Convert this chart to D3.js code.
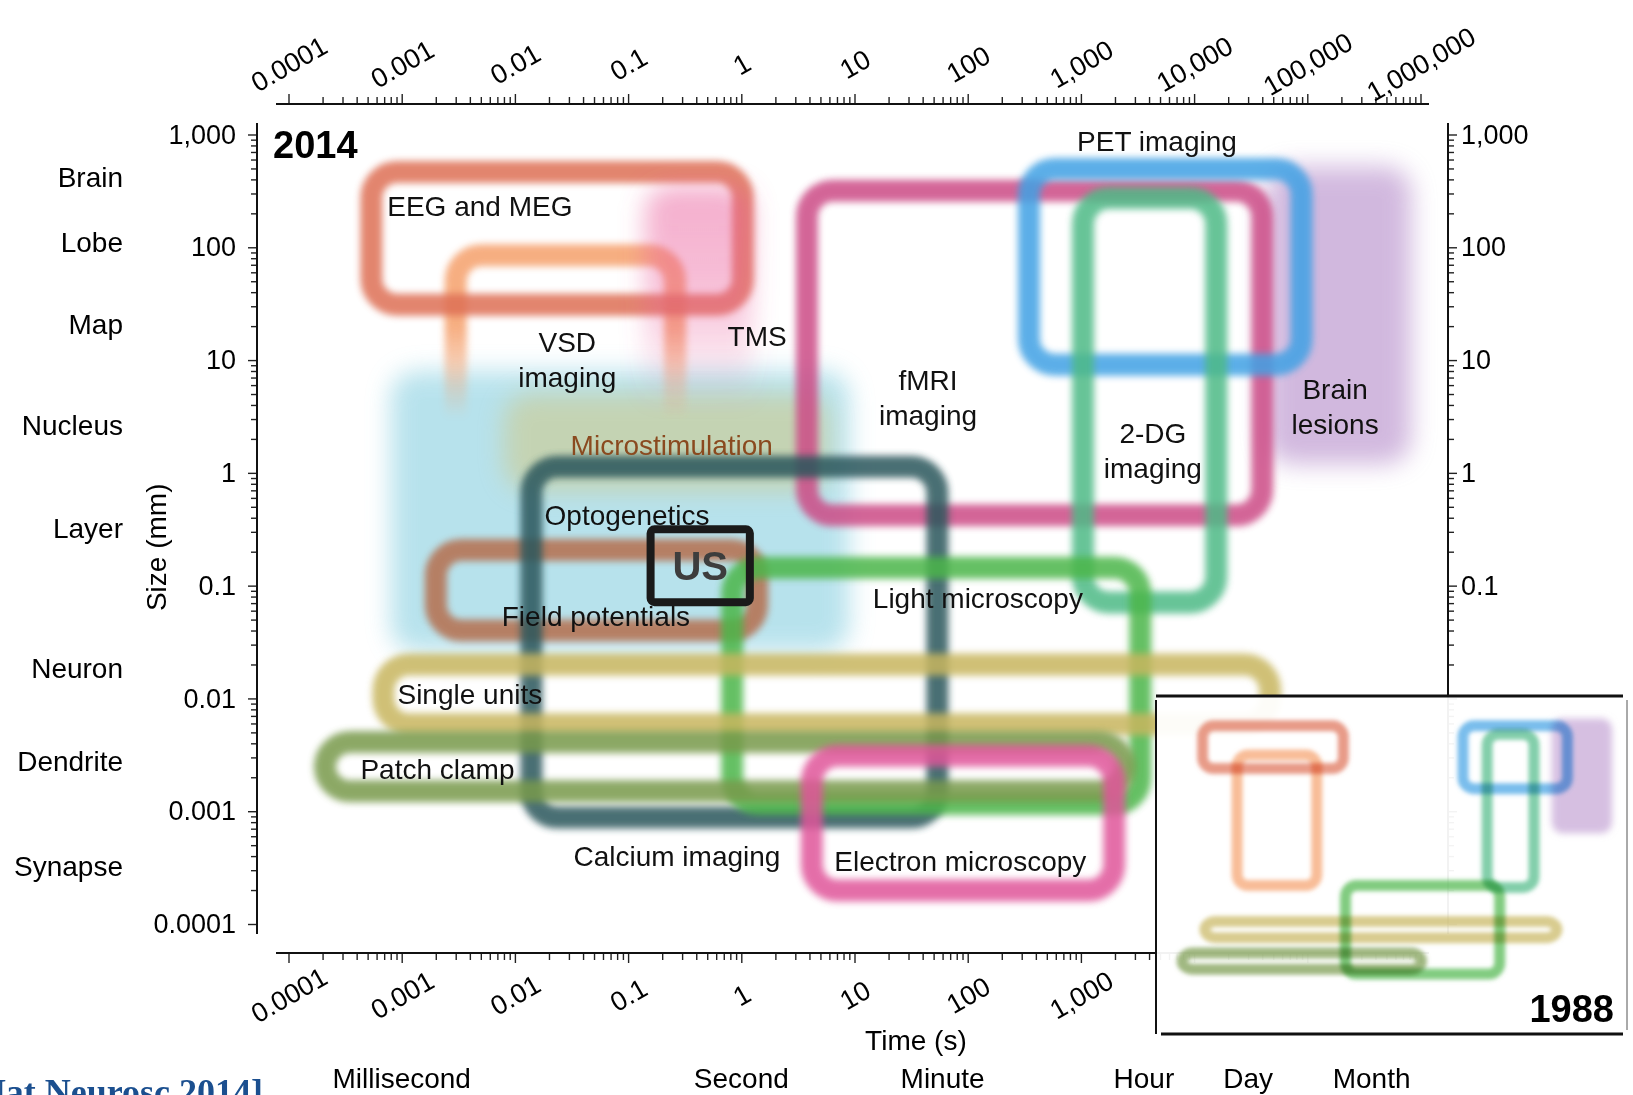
<!DOCTYPE html>
<html>
<head>
<meta charset="utf-8">
<script src="https://cdnjs.cloudflare.com/ajax/libs/d3/7.8.5/d3.min.js"></script>
<style>
  body { margin: 0; background: #fff; }
  svg { display: block; font-family: "Liberation Sans", Arial, Helvetica, sans-serif; }
</style>
</head>
<body>
<svg id="chart"></svg>
<script>
// 2014 panel: time range (s) and size range (mm) of each method
const methods = ["Brain lesions", "Optogenetics", "Microstimulation", "VSD imaging", "EEG and MEG",
  "fMRI imaging", "PET imaging", "2-DG imaging", "Field potentials", "Calcium imaging",
  "Light microscopy", "Single units", "Patch clamp", "Electron microscopy", "TMS"];
const timeFrom = [4.3e4, 8e-4, 8e-3, 3e-3, 5.4e-4, 3.8, 348, 1045, 2e-3, 0.014, 0.83, 6.9e-4, 2.1e-4, 4.2, 0.14];
const timeTo = [8.3e5, 9, 6, 0.26, 1.03, 4e4, 8.9e4, 1.57e4, 1.38, 54, 3350, 4.7e4, 2440, 1970, 1.25];
const sizeFrom = [1.2, 0.026, 0.7, 0.5, 31, 0.42, 9.1, 0.071, 0.04, 8.8e-4, 1.16e-3, 0.0059, 1.5e-3, 1.98e-4, 3];
const sizeTo = [520, 8, 5, 85, 466, 317, 495, 273, 0.207, 1.13, 0.144, 0.02, 4.1e-3, 3.1e-3, 350];

// method labels, anchored in data units
const labelLines = [["EEG and MEG"], ["VSD", "imaging"], ["TMS"], ["Microstimulation"], ["Optogenetics"],
  ["Field potentials"], ["fMRI", "imaging"], ["PET imaging"], ["2-DG", "imaging"], ["Brain", "lesions"],
  ["Light microscopy"], ["Single units"], ["Patch clamp"], ["Calcium imaging"], ["Electron microscopy"]];
const labelTime = [4.9e-3, 0.029, 1.38, 0.243, 0.098, 0.052, 44.6, 4700, 4320, 1.76e5, 123, 0.004, 0.00207, 0.27, 86];
const labelSize = [231, 10.1, 16.2, 1.77, 0.427, 0.054, 4.7, 880, 1.59, 3.9, 0.078, 0.011, 0.00238, 0.0004, 0.00036];

// 1988 inset
const methods1988 = ["Brain lesions", "EEG and MEG", "VSD imaging", "PET imaging", "2-DG imaging",
  "Light microscopy", "Single units", "Patch clamp"];
const timeFrom1988 = [1.9e4, 7.6e-4, 4.1e-3, 250, 813, 0.81, 8.5e-4, 2.8e-4];
const timeTo1988 = [3.6e5, 0.73, 0.2, 4.07e4, 8000, 1500, 2.45e4, 33];
const sizeFrom1988 = [1.44, 39, 0.1, 14, 0.091, 1.1e-3, 7e-3, 1.4e-3];
const sizeTo1988 = [500, 345, 78, 345, 226, 0.1, 0.016, 3.2e-3];

// "US" box (time, size corners)
const usTime = [0.158, 1.19];
const usSize = [0.0714, 0.316];

// axes
const timeTicks = [1e-4, 1e-3, 1e-2, 1e-1, 1, 10, 100, 1e3, 1e4, 1e5, 1e6];
const timeTickLabels = ["0.0001", "0.001", "0.01", "0.1", "1", "10", "100", "1,000", "10,000", "100,000", "1,000,000"];
const sizeTicks = [1000, 100, 10, 1, 0.1, 0.01, 0.001, 0.0001];
const sizeTickLabels = ["1,000", "100", "10", "1", "0.1", "0.01", "0.001", "0.0001"];
const sizeNames = ["Brain", "Lobe", "Map", "Nucleus", "Layer", "Neuron", "Dendrite", "Synapse"];
const sizeNameValues = [418, 112, 21, 2.65, 0.32, 0.0187, 0.00276, 0.000323];
const timeUnits = ["Millisecond", "Second", "Minute", "Hour", "Day", "Month"];
const timeUnitValues = [0.001, 1, 60, 3600, 3e4, 3.7e5];

const look = {
  "Brain lesions": { color: "#b48ac9", filled: true, opacity: 0.6 },
  "Optogenetics": { color: "#a6dbe8", filled: true, opacity: 0.8 },
  "Microstimulation": { color: "#d2c57c", filled: true, opacity: 0.5 },
  "TMS": { color: "#ea5f9c", filled: true, opacity: 1, grad: "tmsFade" },
  "VSD imaging": { color: "#f5a06c", opacity: 0.85, grad: "vsdFade" },
  "EEG and MEG": { color: "#de6f55", opacity: 0.85 },
  "fMRI imaging": { color: "#cc4c86", opacity: 0.85 },
  "PET imaging": { color: "#3fa1e4", opacity: 0.85 },
  "2-DG imaging": { color: "#4dba86", opacity: 0.85 },
  "Field potentials": { color: "#b56e4e", opacity: 0.85 },
  "Calcium imaging": { color: "#2c575b", opacity: 0.85 },
  "Light microscopy": { color: "#4bb64a", opacity: 0.85 },
  "Single units": { color: "#c8b65e", opacity: 0.85 },
  "Patch clamp": { color: "#789a4b", opacity: 0.85 },
  "Electron microscopy": { color: "#e0559a", opacity: 0.85 },
};

let width = 1633;
let height = 1095;

let svg = d3.select("#chart").attr("width", width).attr("height", height);

let xScale = d3.scaleLog().domain([1e-4, 1e6]).range([288.5, 1420.5]);
let yScale = d3.scaleLog().domain([1000, 1e-4]).range([134.5, 924]);
let xInset = d3.scaleLog().domain([1e-4, 1e6]).range([1161, 1633]);
let yInset = d3.scaleLog().domain([1000, 1e-4]).range([705, 1021]);

let defs = svg.append("defs");
let addBlur = (id, sd) => {
  defs.append("filter").attr("id", id)
    .attr("filterUnits", "userSpaceOnUse")
    .attr("x", 0).attr("y", 0).attr("width", width).attr("height", height)
    .append("feGaussianBlur").attr("stdDeviation", sd);
};
addBlur("blurLine", 3.5);
addBlur("blurFill", 12);
addBlur("blurSmall", 2);

let addFade = (id, color, stops, y1, y2) => {
  let g = defs.append("linearGradient").attr("id", id)
    .attr("gradientUnits", "userSpaceOnUse")
    .attr("x1", 0).attr("x2", 0).attr("y1", y1).attr("y2", y2);
  stops.forEach((s) => {
    g.append("stop").attr("offset", s[0]).attr("stop-color", color).attr("stop-opacity", s[1]);
  });
};
addFade("vsdFade", look["VSD imaging"].color, [[0, 1], [1, 0]], yScale(20), yScale(3));
addFade("tmsFade", look["TMS"].color, [[0, 0.5], [0.45, 0.4], [1, 0]], yScale(300), yScale(4));

// ---- main methods ----
let rows = methods.map((name, i) => ({ name: name, t0: timeFrom[i], t1: timeTo[i], s0: sizeFrom[i], s1: sizeTo[i] }));
let paint = (d) => (look[d.name].grad ? "url(#" + look[d.name].grad + ")" : look[d.name].color);

svg.append("g")
  .selectAll("rect")
  .data(rows)
  .enter()
  .append("rect")
  .attr("x", (d) => xScale(d.t0))
  .attr("width", (d) => xScale(d.t1) - xScale(d.t0))
  .attr("y", (d) => yScale(d.s1))
  .attr("height", (d) => yScale(d.s0) - yScale(d.s1))
  .attr("rx", 26)
  .attr("fill", (d) => (look[d.name].filled ? paint(d) : "none"))
  .attr("stroke", (d) => (look[d.name].filled ? "none" : paint(d)))
  .attr("stroke-width", 22)
  .attr("opacity", (d) => look[d.name].opacity)
  .attr("filter", (d) => (look[d.name].filled ? "url(#blurFill)" : "url(#blurLine)"));

// ---- method labels ----
labelLines.forEach((lines, i) => {
  let cx = xScale(labelTime[i]);
  let cy = yScale(labelSize[i]);
  let t = svg.append("text")
    .attr("text-anchor", "middle")
    .attr("font-size", 28)
    .attr("fill", lines[0] === "Microstimulation" ? "#8a4a1f" : "#111");
  lines.forEach((line, j) => {
    t.append("tspan")
      .attr("x", cx)
      .attr("y", cy + (j - (lines.length - 1) / 2) * 35 + 10)
      .text(line);
  });
});

// US box
svg.append("rect")
  .attr("x", xScale(usTime[0]))
  .attr("y", yScale(usSize[1]))
  .attr("width", xScale(usTime[1]) - xScale(usTime[0]))
  .attr("height", yScale(usSize[0]) - yScale(usSize[1]))
  .attr("rx", 4)
  .attr("fill", "none")
  .attr("stroke", "#1a1a1a")
  .attr("stroke-width", 8);
svg.append("text")
  .attr("x", (xScale(usTime[0]) + xScale(usTime[1])) / 2)
  .attr("y", (yScale(usSize[0]) + yScale(usSize[1])) / 2 + 14)
  .attr("text-anchor", "middle")
  .attr("font-size", 40)
  .attr("font-weight", "bold")
  .attr("fill", "#3d3d3d")
  .text("US");

// ---- axes ----
let minorTime = [];
d3.range(-4, 6).forEach((e) => d3.range(2, 10).forEach((m) => minorTime.push(m * Math.pow(10, e))));
let minorSize = [];
d3.range(-4, 3).forEach((e) => d3.range(2, 10).forEach((m) => minorSize.push(m * Math.pow(10, e))));

let topY = 104;
let bottomY = 953;
let leftX = 257;
let rightX = 1448;

let styleAxis = (g) => {
  g.select(".domain").remove();
  g.selectAll("line").attr("stroke", "#222").attr("stroke-width", 1.4);
};

let drawAxis = (axis, minorAxis, transform) => {
  svg.append("g").attr("transform", transform).call(minorAxis).call(styleAxis);
  return svg.append("g").attr("transform", transform).call(axis).call(styleAxis);
};

let tickText = (sel) => sel
  .attr("font-size", 27)
  .attr("font-family", "Liberation Sans, Arial, sans-serif")
  .attr("fill", "#000");

let topAxis = drawAxis(
  d3.axisTop(xScale).tickValues(timeTicks).tickSize(10).tickFormat((d, i) => timeTickLabels[i]),
  d3.axisTop(xScale).tickValues(minorTime).tickSize(7).tickFormat(""),
  "translate(0," + topY + ")"
);
topAxis.selectAll("text")
  .attr("y", 0).attr("dy", "0.35em")
  .attr("transform", "translate(0,-40) rotate(-30)")
  .attr("text-anchor", "middle")
  .call(tickText);

let bottomAxis = drawAxis(
  d3.axisBottom(xScale).tickValues(timeTicks).tickSize(10).tickFormat((d, i) => (d <= 1000 ? timeTickLabels[i] : "")),
  d3.axisBottom(xScale).tickValues(minorTime).tickSize(7).tickFormat(""),
  "translate(0," + bottomY + ")"
);
bottomAxis.selectAll("text")
  .attr("y", 0).attr("dy", "0.35em")
  .attr("transform", "translate(0,42) rotate(-30)")
  .attr("text-anchor", "middle")
  .call(tickText);

let leftAxis = drawAxis(
  d3.axisLeft(yScale).tickValues(sizeTicks).tickSize(9).tickPadding(12).tickFormat((d, i) => sizeTickLabels[i]),
  d3.axisLeft(yScale).tickValues(minorSize).tickSize(6).tickFormat(""),
  "translate(" + leftX + ",0)"
);
leftAxis.selectAll("text").call(tickText);

let rightAxis = drawAxis(
  d3.axisRight(yScale).tickValues(sizeTicks).tickSize(9).tickPadding(4).tickFormat((d, i) => (d >= 0.1 ? sizeTickLabels[i] : "")),
  d3.axisRight(yScale).tickValues(minorSize).tickSize(6).tickFormat(""),
  "translate(" + rightX + ",0)"
);
rightAxis.selectAll("text").call(tickText);

// axis lines
let lineStyle = (sel) => sel.attr("stroke", "#111").attr("stroke-width", 2);
svg.append("line").attr("x1", 276).attr("x2", 1429).attr("y1", topY).attr("y2", topY).call(lineStyle);
svg.append("line").attr("x1", 276).attr("x2", 1429).attr("y1", bottomY).attr("y2", bottomY).call(lineStyle);
svg.append("line").attr("x1", leftX).attr("x2", leftX).attr("y1", 123).attr("y2", 934).call(lineStyle);
svg.append("line").attr("x1", rightX).attr("x2", rightX).attr("y1", 123).attr("y2", 934).call(lineStyle);

// scale names on the left
svg.append("g")
  .selectAll("text")
  .data(sizeNames)
  .enter()
  .append("text")
  .attr("x", 123)
  .attr("y", (d, i) => yScale(sizeNameValues[i]))
  .attr("dy", "0.35em")
  .attr("text-anchor", "end")
  .attr("font-size", 28)
  .attr("fill", "#000")
  .text((d) => d);

// time units at the bottom
svg.append("g")
  .selectAll("text")
  .data(timeUnits)
  .enter()
  .append("text")
  .attr("x", (d, i) => xScale(timeUnitValues[i]))
  .attr("y", 1088)
  .attr("text-anchor", "middle")
  .attr("font-size", 28)
  .attr("fill", "#000")
  .text((d) => d);

svg.append("text")
  .attr("transform", "translate(156," + (yScale(0.316) + 18) + ") rotate(-90)")
  .attr("text-anchor", "middle")
  .attr("dy", "0.35em")
  .attr("font-size", 28)
  .text("Size (mm)");

svg.append("text")
  .attr("x", xScale(Math.sqrt(10)) + 118)
  .attr("y", 1050)
  .attr("text-anchor", "middle")
  .attr("font-size", 28)
  .text("Time (s)");

svg.append("text")
  .attr("x", 273).attr("y", 158)
  .attr("font-size", 38).attr("font-weight", "bold")
  .text("2014");

// ---- 1988 inset ----
svg.append("clipPath").attr("id", "insetClip")
  .append("rect").attr("x", 1157).attr("y", 697).attr("width", 476).attr("height", 336);

svg.append("rect")
  .attr("x", 1156).attr("y", 696).attr("width", 477).attr("height", 338)
  .attr("fill", "#fff").attr("opacity", 0.95);

let rows1988 = methods1988.map((name, i) => ({ name: name, t0: timeFrom1988[i], t1: timeTo1988[i], s0: sizeFrom1988[i], s1: sizeTo1988[i] }));

svg.append("g")
  .attr("clip-path", "url(#insetClip)")
  .selectAll("rect")
  .data(rows1988)
  .enter()
  .append("rect")
  .attr("x", (d) => xInset(d.t0))
  .attr("width", (d) => xInset(d.t1) - xInset(d.t0))
  .attr("y", (d) => yInset(d.s1))
  .attr("height", (d) => yInset(d.s0) - yInset(d.s1))
  .attr("rx", 11)
  .attr("fill", (d) => (look[d.name].filled ? look[d.name].color : "none"))
  .attr("stroke", (d) => (look[d.name].filled ? "none" : look[d.name].color))
  .attr("stroke-width", 11)
  .attr("opacity", (d) => (look[d.name].filled ? 0.55 : 0.7))
  .attr("filter", (d) => (look[d.name].filled ? "url(#blurLine)" : "url(#blurSmall)"))
  .style("mix-blend-mode", "multiply");

svg.append("line").attr("x1", 1156).attr("x2", 1623).attr("y1", 696).attr("y2", 696).attr("stroke", "#111").attr("stroke-width", 3);
svg.append("line").attr("x1", 1156).attr("x2", 1156).attr("y1", 700).attr("y2", 1034).attr("stroke", "#111").attr("stroke-width", 2);
svg.append("line").attr("x1", 1161).attr("x2", 1623).attr("y1", 1034).attr("y2", 1034).attr("stroke", "#111").attr("stroke-width", 3);
svg.append("line").attr("x1", 1627).attr("x2", 1627).attr("y1", 700).attr("y2", 1030).attr("stroke", "#555").attr("stroke-width", 1);

svg.append("text")
  .attr("x", 1614).attr("y", 1022)
  .attr("text-anchor", "end")
  .attr("font-size", 38).attr("font-weight", "bold")
  .text("1988");

// citation, cut by the bottom edge as in the slide
svg.append("text")
  .attr("x", 263).attr("y", 1104)
  .attr("text-anchor", "end")
  .attr("font-family", "Liberation Serif, Times New Roman, serif")
  .attr("font-weight", "bold")
  .attr("font-size", 36)
  .attr("fill", "#1b4f8f")
  .text("[Sejnowski et al., Nat Neurosc 2014]");
</script>
</body>
</html>
